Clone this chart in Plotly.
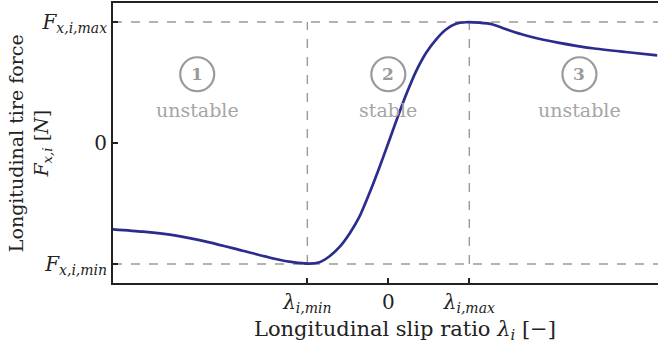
import plotly.graph_objects as go

# Normalised slip ratio / tire force characteristic (read at sample points)
slip = [-0.341, -0.303, -0.262, -0.221, -0.180, -0.139, -0.118, -0.0975, -0.085,
        -0.073, -0.0605, -0.048, -0.0358, -0.0235, -0.0115, 0.0, 0.0095, 0.0219,
        0.0342, 0.0465, 0.0589, 0.0712, 0.0835, 0.0959, 0.112, 0.129, 0.149,
        0.170, 0.190, 0.211, 0.232, 0.252, 0.293, 0.332]
force = [-0.713, -0.733, -0.766, -0.821, -0.890, -0.959, -0.985, -0.997, -0.985,
         -0.938, -0.861, -0.749, -0.610, -0.417, -0.210, 0.0, 0.177, 0.398,
         0.592, 0.744, 0.855, 0.938, 0.985, 0.998, 0.994, 0.979, 0.932,
         0.888, 0.855, 0.827, 0.803, 0.783, 0.752, 0.724]

# Characteristic points
LAMBDA_MIN, LAMBDA_MAX = -0.1, 0.1
F_MIN, F_MAX = -1.0, 1.0

x_tick_vals = [LAMBDA_MIN, 0.0, LAMBDA_MAX]
x_tick_text = ["<i>λ</i><sub><i>i,min</i></sub>", "0", "<i>λ</i><sub><i>i,max</i></sub>"]
y_tick_vals = [F_MIN, 0.0, F_MAX]
y_tick_text = ["<i>F</i><sub><i>x,i,min</i></sub>", "0", "<i>F</i><sub><i>x,i,max</i></sub>"]

region_numbers = ["1", "2", "3"]
region_labels = ["unstable", "stable", "unstable"]
region_centers = [-0.236, 0.0, 0.236]

FONT = "DejaVu Serif"
INK = "#222222"
GREY = "#9a9a9a"
CURVE = "#2b2d8e"

fig = go.Figure()
fig.add_trace(go.Scatter(
    x=slip, y=force, mode="lines",
    line=dict(color=CURVE, width=2.7, shape="spline", smoothing=0.7),
    hoverinfo="skip", showlegend=False,
))

shapes = []
# dashed reference lines at the force extremes
for fv in (F_MIN, F_MAX):
    shapes.append(dict(type="line", xref="paper", yref="y", x0=0, x1=1, y0=fv, y1=fv,
                       line=dict(color=GREY, width=1.4, dash="dash"), layer="below"))
# dashed verticals at the slip ratios of the extremes
for lv in (LAMBDA_MIN, LAMBDA_MAX):
    shapes.append(dict(type="line", xref="x", yref="y", x0=lv, x1=lv, y0=F_MIN, y1=F_MAX,
                       line=dict(color=GREY, width=1.4, dash="dash"), layer="below"))

annotations = []
ROW_NUM, ROW_TXT = 0.568, 0.275
for cx, num, lab in zip(region_centers, region_numbers, region_labels):
    shapes.append(dict(type="circle", xref="x", yref="y", xsizemode="pixel", ysizemode="pixel",
                       xanchor=cx, yanchor=ROW_NUM, x0=-17, x1=17, y0=-17, y1=17,
                       line=dict(color=GREY, width=2.2), layer="below"))
    annotations.append(dict(x=cx, y=ROW_NUM, xref="x", yref="y", text="<b>%s</b>" % num,
                            showarrow=False, font=dict(family=FONT, size=17, color=GREY)))
    annotations.append(dict(x=cx, y=ROW_TXT, xref="x", yref="y", text=lab,
                            showarrow=False, font=dict(family=FONT, size=19, color="#a5a5a5")))

# axis titles
annotations.append(dict(xref="paper", yref="paper", x=0.536, y=-0.168,
                        xanchor="center", yanchor="middle",
                        text="Longitudinal slip ratio <i>λ</i><sub><i>i</i></sub> [−]",
                        showarrow=False, font=dict(family=FONT, size=21, color=INK)))
annotations.append(dict(xref="paper", yref="paper", x=-0.152, y=0.5, textangle=-90,
                        xanchor="center", yanchor="middle",
                        text="Longitudinal tire force<br><i>F</i><sub><i>x,i</i></sub> [<i>N</i>]",
                        showarrow=False, font=dict(family=FONT, size=19, color=INK)))

fig.update_layout(
    width=658, height=347,
    margin=dict(l=113, r=0, t=3, b=64),
    paper_bgcolor="white", plot_bgcolor="white",
    shapes=shapes, annotations=annotations,
    font=dict(family=FONT, color=INK),
    xaxis=dict(range=[-0.340, 0.333], tickvals=x_tick_vals, ticktext=x_tick_text,
               ticks="inside", ticklen=5, tickwidth=1.5, tickcolor=INK,
               showline=True, linecolor=INK, linewidth=1.8, mirror=True,
               showgrid=False, zeroline=False,
               tickfont=dict(family=FONT, size=20, color=INK)),
    yaxis=dict(range=[-1.157, 1.157], tickvals=y_tick_vals, ticktext=y_tick_text,
               ticks="inside", ticklen=5, tickwidth=1.5, tickcolor=INK,
               showline=True, linecolor=INK, linewidth=1.8,
               showgrid=False, zeroline=False,
               tickfont=dict(family=FONT, size=20, color=INK)),
)

fig.write_html("out.html")
